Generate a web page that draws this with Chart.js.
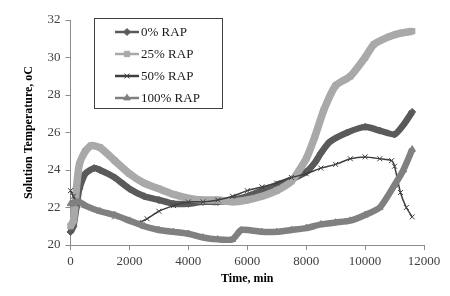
<!DOCTYPE html>
<html>
<head>
<meta charset="utf-8">
<script src="https://cdn.jsdelivr.net/npm/chart.js@4/dist/chart.umd.min.js"></script>
<style>
html,body{margin:0;padding:0;background:#fff;}
#wrap{width:450px;height:296px;position:relative;}
</style>
</head>
<body>
<div id="wrap"><canvas id="c" width="450" height="296"></canvas></div>
<script>
// ---- data ----
const seriesLabels = ['0% RAP', '25% RAP', '50% RAP', '100% RAP'];

const time0 = [0,100,200,300,500,800,1000,1500,2000,2500,3000,3500,4000,4500,5000,5500,6000,6500,7000,7500,8000,8300,8500,8800,9400,10000,10500,11000,11300,11600];
const temp0 = [20.7,21.0,22.0,23.0,23.8,24.1,24.0,23.6,23.0,22.6,22.4,22.2,22.2,22.3,22.3,22.4,22.6,22.9,23.2,23.5,23.9,24.4,24.9,25.5,26.0,26.3,26.1,25.9,26.4,27.1];

const time25 = [0,100,200,300,500,700,1000,1500,2000,2500,3000,3500,4000,4500,5000,5500,6000,6500,7000,7500,8000,8300,8600,9000,9500,10000,10300,10800,11200,11600];
const temp25 = [21.0,21.3,23.0,24.3,25.0,25.3,25.2,24.5,23.8,23.3,23.0,22.7,22.5,22.4,22.4,22.3,22.4,22.6,22.9,23.4,24.6,25.8,27.2,28.5,29.0,30.0,30.7,31.1,31.3,31.4];

const time50 = [0,100,200,300,500,1000,1500,2000,2300,2600,3000,3500,4000,4500,5000,5500,6000,6500,7000,7500,8000,8500,9000,9500,10000,10500,10900,11000,11200,11400,11600];
const temp50 = [22.9,22.6,22.2,22.2,22.1,21.8,21.5,21.3,21.2,21.4,21.8,22.1,22.3,22.3,22.4,22.6,22.9,23.1,23.3,23.6,23.8,24.1,24.3,24.6,24.7,24.6,24.5,24.2,22.8,22.0,21.5];

const time100 = [0,300,500,1000,1500,2000,2500,3000,3500,4000,4500,5000,5500,5800,6500,7000,7500,8000,8500,9000,9500,10000,10500,11000,11300,11600];
const temp100 = [22.2,22.3,22.1,21.8,21.6,21.3,21.0,20.8,20.7,20.6,20.4,20.3,20.3,20.8,20.7,20.7,20.8,20.9,21.1,21.2,21.3,21.6,22.0,23.2,24.0,25.1];

const xTicks = [0,2000,4000,6000,8000,10000,12000];
const yTicks = [20,22,24,26,28,30,32];

function pts(xs, ys){ return xs.map((x,i)=>({x:x, y:ys[i]})); }

const styles = [
  {color:'#5a5a5a', width:6.5, point:'rectRot', r:3.5},
  {color:'#a9a9a9', width:7.5, point:'rect', r:3.8},
  {color:'#3f3f3f', width:1.5, point:'crossRot', r:3.5},
  {color:'#808080', width:6.5, point:'triangle', r:3.8}
];
const dataArr = [pts(time0,temp0), pts(time25,temp25), pts(time50,temp50), pts(time100,temp100)];

const datasets = dataArr.map((d,i)=>({
  label: seriesLabels[i],
  data: d,
  borderColor: styles[i].color,
  backgroundColor: styles[i].color,
  borderWidth: styles[i].width,
  pointStyle: styles[i].point,
  pointRadius: styles[i].r,
  pointBorderWidth: 1,
  pointBorderColor: styles[i].color,
  pointBackgroundColor: styles[i].color,
  tension: 0.2,
  fill: false,
  clip: 8,
  order: 3 - i
}));

const legendBox = {
  id: 'legendBox',
  afterDraw(chart){
    const ctx = chart.ctx;
    ctx.save();
    ctx.strokeStyle = '#404040';
    ctx.lineWidth = 1;
    ctx.strokeRect(94.5, 18.5, 128, 90);
    const rows = [32, 54, 76, 98];
    ctx.font = '13px "Liberation Serif", "Times New Roman", serif';
    ctx.textBaseline = 'middle';
    ctx.textAlign = 'left';
    chart.data.datasets.forEach((ds, i) => {
      const y = rows[i];
      ctx.strokeStyle = ds.borderColor;
      ctx.lineWidth = 2.5;
      ctx.beginPath();
      ctx.moveTo(115, y);
      ctx.lineTo(139, y);
      ctx.stroke();
      ctx.fillStyle = ds.borderColor;
      ctx.strokeStyle = ds.borderColor;
      ctx.lineWidth = 1;
      Chart.helpers.drawPoint(ctx, {pointStyle: ds.pointStyle, radius: ds.pointRadius, borderWidth: 1}, 127, y);
      ctx.fillStyle = '#1a1a1a';
      ctx.fillText(ds.label, 141, y + 1);
    });
    ctx.restore();
  }
};

const axisColor = '#8c8c8c';
const tickFont = {family: '"Liberation Serif", "Times New Roman", serif', size: 13};
const titleFont = {family: '"Liberation Serif", "Times New Roman", serif', size: 12, weight: 'bold'};

new Chart(document.getElementById('c'), {
  type: 'line',
  data: { datasets: datasets },
  options: {
    responsive: false,
    animation: false,
    devicePixelRatio: 1,
    layout: { padding: {left: 0, right: 26, top: 20, bottom: 0} },
    plugins: { legend: {display: false}, tooltip: {enabled: false} },
    scales: {
      x: {
        type: 'linear',
        min: 0, max: 12000,
        afterBuildTicks: s => { s.ticks = xTicks.map(v => ({value: v})); },
        afterFit: s => { s.height = 51; },
        ticks: { font: tickFont, color: '#404040', padding: 4, maxRotation: 0, callback: v => String(v) },
        grid: { drawOnChartArea: false, drawTicks: true, tickLength: 5, tickColor: axisColor },
        border: { display: true, color: axisColor, width: 1 },
        title: { display: true, text: 'Time, min', font: titleFont, color: '#000', padding: {top: 0, bottom: 10} }
      },
      y: {
        type: 'linear',
        min: 20, max: 32,
        afterBuildTicks: s => { s.ticks = yTicks.map(v => ({value: v})); },
        afterFit: s => { s.width = 70.5; },
        ticks: { font: tickFont, color: '#404040', padding: 5, callback: v => String(v) },
        grid: { drawOnChartArea: false, drawTicks: true, tickLength: 5, tickColor: axisColor },
        border: { display: true, color: axisColor, width: 1 },
        title: { display: true, text: 'Solution Temperature, oC', font: titleFont, color: '#000', padding: {top: 22, bottom: 0} }
      }
    }
  },
  plugins: [legendBox]
});
</script>
</body>
</html>
